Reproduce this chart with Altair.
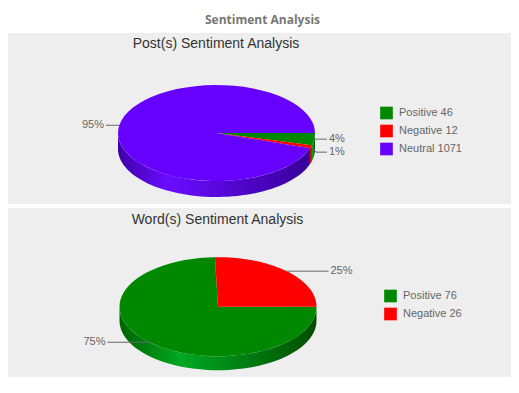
import altair as alt
import pandas as pd

# ---- data ----
main_title = "Sentiment Analysis"
panel_titles = ["Post(s) Sentiment Analysis", "Word(s) Sentiment Analysis"]
post_categories = ["Positive", "Negative", "Neutral"]
post_values = [46, 12, 1071]
word_categories = ["Positive", "Negative"]
word_values = [76, 26]

top_colors = {"Positive": "#008800", "Negative": "#ff0000", "Neutral": "#6600ff"}
side_stops = {
    "Positive": ["#006400", "#00a822", "#004e00"],
    "Negative": ["#a00000", "#e00000", "#900000"],
    "Neutral": ["#3e00a8", "#6a0cff", "#38009a"],
}

W = 503
N = 60


def panel(cats, vals, title, H, cx, cy, a, b, depth, hl, legend_x, legend_y, title_y):
    df = pd.DataFrame({"cat": cats, "value": vals, "order": list(range(len(cats)))})
    legend_labels = [f"{c} {v}" for c, v in zip(cats, vals)]
    xs = alt.Scale(domain=[-cx / a, (W - cx) / a], nice=False, zero=False)
    ys = alt.Scale(domain=[-cy / b, (H - cy) / b], nice=False, zero=False, reverse=True)

    base = (
        alt.Chart(df)
        .transform_joinaggregate(total="sum(value)")
        .transform_window(cum="sum(value)", sort=[alt.SortField("order")], frame=[None, 0])
        .transform_calculate(
            a0="2*PI*(datum.cum - datum.value)/datum.total",
            a1="2*PI*datum.cum/datum.total",
            legend="datum.cat + ' ' + datum.value",
            pct="round(100*datum.value/datum.total) + '%'",
        )
    )

    # side walls (front half), one layer per category for gradient shading
    side_base = (
        base.transform_calculate(s0="max(datum.a0, 0)", s1="min(datum.a1, PI)")
        .transform_filter("datum.s1 > datum.s0")
        .transform_calculate(idx=f"sequence(0, {2 * N + 2})")
        .transform_flatten(["idx"])
        .transform_calculate(
            j=f"datum.idx <= {N} ? datum.idx : {2 * N + 1} - datum.idx",
            t=f"datum.s0 + (datum.s1 - datum.s0)*datum.j/{N}",
            px="cos(datum.t)",
            py=f"sin(datum.t) + (datum.idx > {N} ? {depth / b} : 0)",
        )
    )
    sides = []
    for c in cats:
        st = side_stops[c]
        grad = alt.Gradient(
            gradient="linear",
            stops=[
                alt.GradientStop(color=st[0], offset=0),
                alt.GradientStop(color=st[1], offset=hl),
                alt.GradientStop(color=st[2], offset=1),
            ],
            x1=0, x2=1, y1=0, y2=0,
        )
        sides.append(
            side_base.transform_filter(f"datum.cat == '{c}'")
            .mark_line(fill=grad, strokeWidth=0, interpolate="linear-closed")
            .encode(
                x=alt.X("px:Q", scale=xs, axis=None),
                y=alt.Y("py:Q", scale=ys, axis=None),
                order=alt.Order("idx:Q"),
            )
        )

    top = (
        base.transform_calculate(idx=f"sequence(0, {N + 2})")
        .transform_flatten(["idx"])
        .transform_calculate(
            t=f"datum.a0 + (datum.a1 - datum.a0)*min(datum.idx, {N})/{N}",
            px=f"datum.idx > {N} ? 0 : cos(datum.t)",
            py=f"datum.idx > {N} ? 0 : sin(datum.t)",
        )
        .mark_line(strokeWidth=0, interpolate="linear-closed")
        .encode(
            x=alt.X("px:Q", scale=xs, axis=None),
            y=alt.Y("py:Q", scale=ys, axis=None),
            fill=alt.Fill(
                "legend:N",
                scale=alt.Scale(domain=legend_labels, range=[top_colors[c] for c in cats]),
                legend=alt.Legend(
                    orient="none", legendX=legend_x, legendY=legend_y, title=None,
                    symbolType="square", symbolSize=160, symbolStrokeWidth=0,
                    labelFont="Liberation Sans", labelFontSize=11, labelColor="#666666",
                    rowPadding=5, labelOffset=6,
                ),
            ),
            order=alt.Order("idx:Q"),
        )
    )

    lab = (
        base.transform_calculate(
            m="(datum.a0 + datum.a1)/2",
            ex="cos(datum.m)",
            ey="sin(datum.m)",
            side="datum.ex < 0 ? 'L' : 'R'",
            sgn="datum.ex < 0 ? -1 : 1",
        )
        .transform_window(prev="lag(ey)", groupby=["side"], sort=[alt.SortField("ey")])
        .transform_calculate(
            ly=f"datum.prev == null ? datum.ey : max(datum.ey, datum.prev + {13 / b})",
            lx=f"datum.sgn * {1 + 14 / a}",
        )
    )
    leaders = (
        lab.transform_calculate(k="sequence(0, 3)")
        .transform_flatten(["k"])
        .transform_calculate(
            qx=f"datum.k == 0 ? datum.ex : (datum.k == 1 ? datum.ex + datum.sgn*{5 / a} : datum.sgn*{1 + 12 / a})",
            qy="datum.k == 0 ? datum.ey : datum.ly",
        )
        .mark_line(color="#666666", strokeWidth=1)
        .encode(
            x=alt.X("qx:Q", scale=xs, axis=None),
            y=alt.Y("qy:Q", scale=ys, axis=None),
            detail="cat:N",
            order=alt.Order("k:Q"),
        )
    )
    texts = []
    for sd, al in (("L", "right"), ("R", "left")):
        texts.append(
            lab.transform_filter(f"datum.side == '{sd}'")
            .mark_text(align=al, baseline="middle", font="Liberation Sans", fontSize=11, color="#666666")
            .encode(
                x=alt.X("lx:Q", scale=xs, axis=None),
                y=alt.Y("ly:Q", scale=ys, axis=None),
                text="pct:N",
            )
        )

    ttl = (
        alt.Chart(pd.DataFrame({"t": [title]}))
        .mark_text(align="center", baseline="alphabetic", font="Liberation Sans", fontSize=14, color="#333333")
        .encode(text="t:N", x=alt.value(cx - 0.5), y=alt.value(title_y))
    )

    return alt.layer(*sides, top, leaders, *texts, ttl).properties(width=W, height=H)


p1 = panel(post_categories, post_values, panel_titles[0], 171, 208.5, 100, 98.5, 48, 16, 0.26, 372, 73.5, 15.0)
p2 = panel(word_categories, word_values, panel_titles[1], 169, 210, 98.7, 98.5, 49.5, 14, 0.31, 376, 81.5, 15.5)

chart = (
    alt.vconcat(p1, p2, spacing=4)
    .resolve_scale(x="independent", y="independent", fill="independent")
    .resolve_legend(fill="independent")
    .properties(
        title=alt.TitleParams(
            text=main_title, anchor="middle", font="Open Sans", fontSize=12,
            fontWeight="bold", color="#777777", offset=6, dx=3,
        ),
        padding={"top": 6, "left": 0, "right": 0, "bottom": 0},
    )
    .configure_view(fill="#eeeeee", strokeWidth=0)
)

chart.save("out.html", embed_options={"renderer": "svg", "actions": False})
